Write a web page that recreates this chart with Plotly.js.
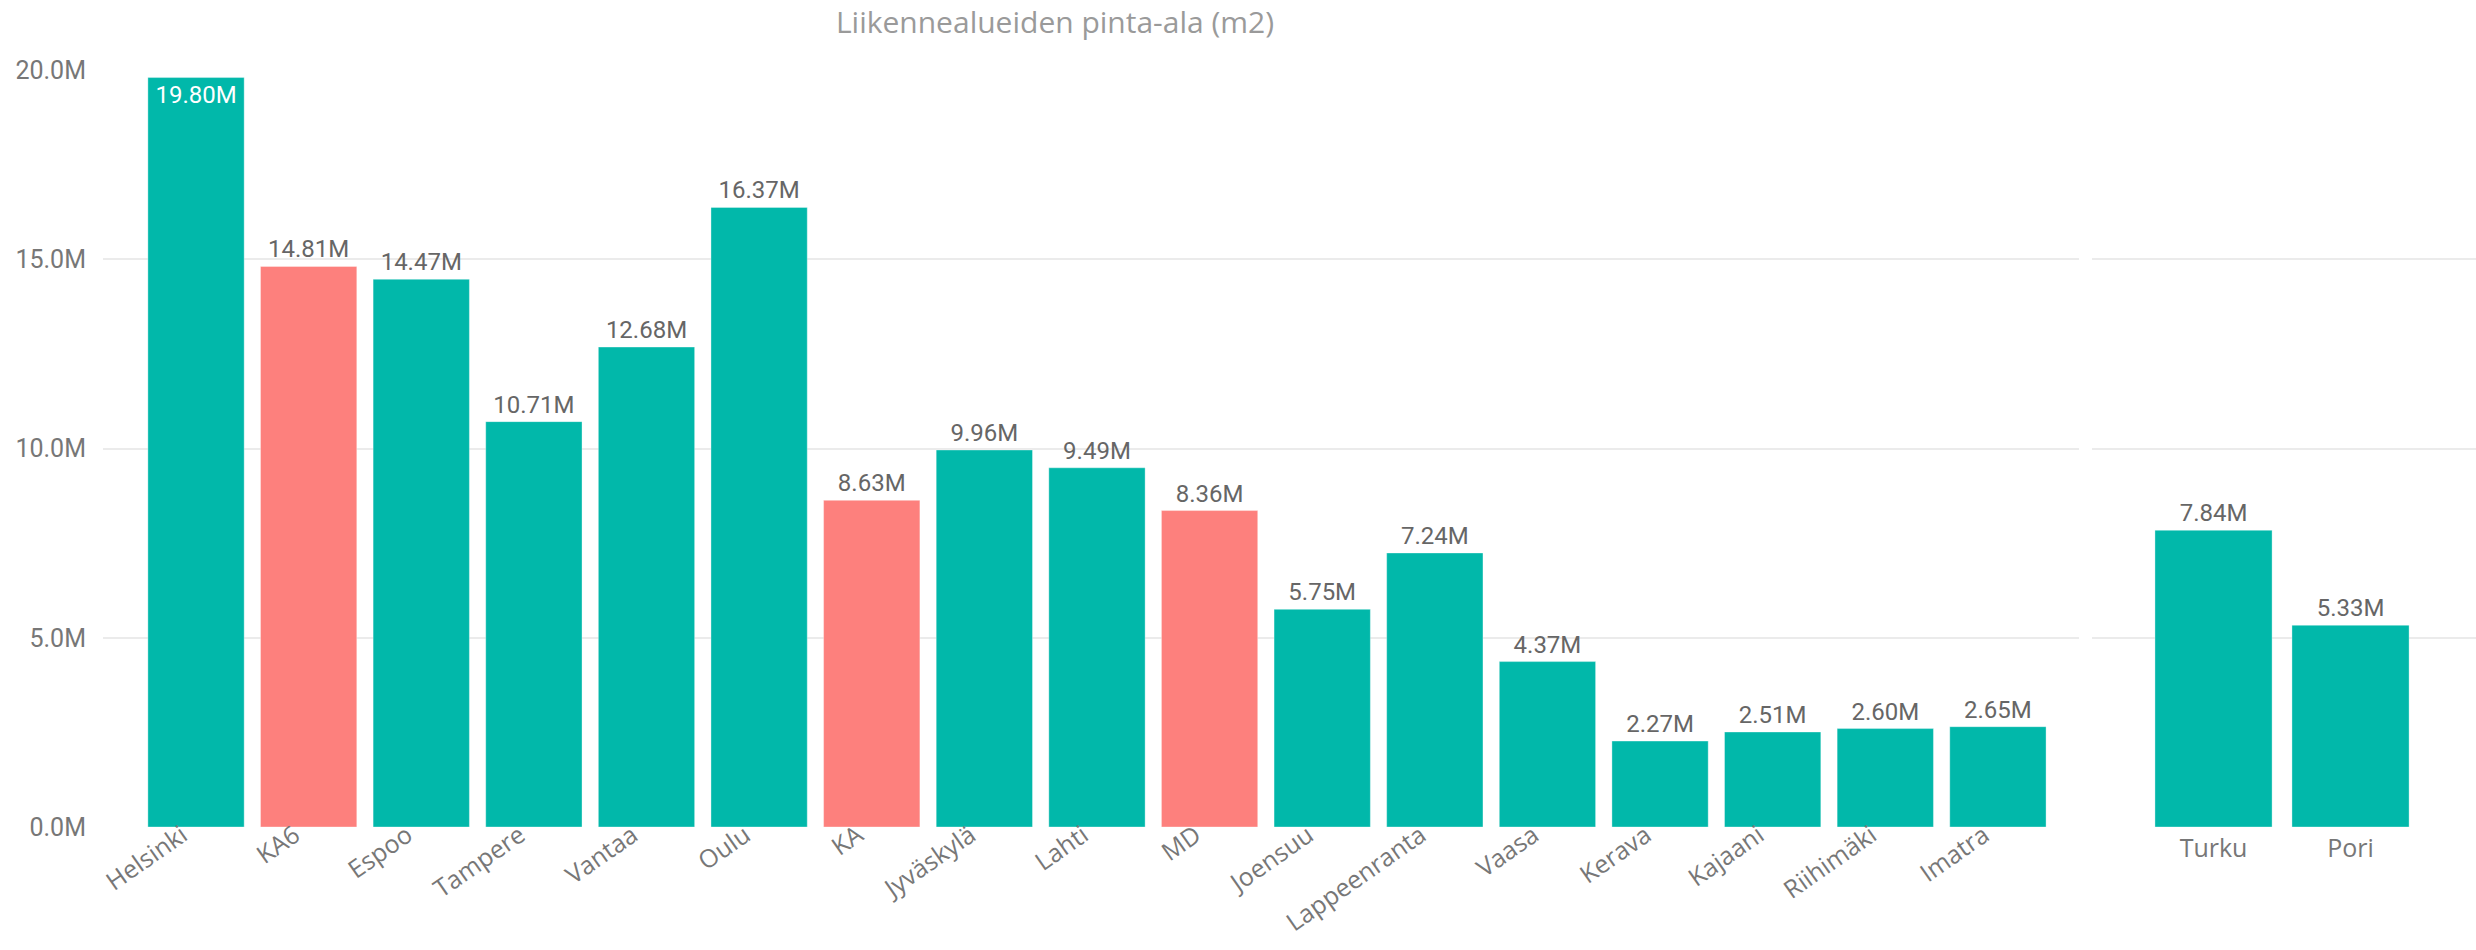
<!DOCTYPE html>
<html>
<head>
<meta charset="utf-8">
<script src="https://cdn.plot.ly/plotly-3.0.1.min.js"></script>
<style>html,body{margin:0;padding:0;background:#fff;}#chart{width:2476px;height:950px;}</style>
</head>
<body>
<div id="chart"></div>
<script>
// Data (values in millions of m2)
const cities = ["Helsinki","KA6","Espoo","Tampere","Vantaa","Oulu","KA","Jyväskylä","Lahti","MD","Joensuu","Lappeenranta","Vaasa","Kerava","Kajaani","Riihimäki","Imatra"];
const cityValues = [19.80,14.81,14.47,10.71,12.68,16.37,8.63,9.96,9.49,8.36,5.75,7.24,4.37,2.27,2.51,2.60,2.65];
const averageCategories = ["KA6","KA","MD"];
const otherCities = ["Turku","Pori"];
const otherValues = [7.84,5.33];
const yTickValues = [0,5,10,15,20];
const yTickLabels = ["0.0M","5.0M","10.0M","15.0M","20.0M"];
const chartTitle = "Liikennealueiden pinta-ala (m2)";

const TEAL = "#01B8AA", SALMON = "#FD807D";
const W = 2476, H = 950;
const mL = 103, mR = 0, mT = 70, mB = 123;
const plotW = W - mL - mR;
const fmt = v => v.toFixed(2) + "M";

const leftColors = cities.map(c => averageCategories.includes(c) ? SALMON : TEAL);
const leftPos = cityValues.map(v => v > 19 ? "inside" : "outside");
const labelFont = {family: "Roboto, DejaVu Sans", size: 24, color: "#666"};

const traces = [
  {
    type: "bar", x: cities, y: cityValues, xaxis: "x", yaxis: "y",
    marker: {color: leftColors, line: {color: "rgba(255,255,255,0.35)", width: 1}},
    text: cityValues.map(fmt), textposition: leftPos, insidetextanchor: "end",
    textfont: labelFont,
    insidetextfont: {family: "Roboto, DejaVu Sans", size: 24, color: "#ffffff"},
    outsidetextfont: labelFont,
    cliponaxis: false, hoverinfo: "x+y", showlegend: false
  },
  {
    type: "bar", x: otherCities, y: otherValues, xaxis: "x2", yaxis: "y2",
    marker: {color: TEAL, line: {color: "rgba(255,255,255,0.35)", width: 1}},
    text: otherValues.map(fmt), textposition: "outside",
    textfont: labelFont,
    cliponaxis: false, hoverinfo: "x+y", showlegend: false
  }
];

const d1end = (2079 - mL) / plotW;
const d2start = (2092 - mL) / plotW;

const layout = {
  width: W, height: H,
  margin: {l: mL, r: mR, t: mT, b: mB, pad: 0},
  paper_bgcolor: "#fff", plot_bgcolor: "#fff",
  bargap: 0.145,
  title: {text: chartTitle, x: 1055 / W, xanchor: "center", xref: "container",
          y: 1 - 22 / H, yanchor: "middle", yref: "container",
          font: {family: "Open Sans, Noto Sans", size: 30, color: "#9a9a9a"}},
  xaxis: {domain: [0, d1end], range: [-0.826, 16.72], tickangle: -35,
          tickfont: {family: "Open Sans, Noto Sans", size: 25, color: "#777"},
          showgrid: false, zeroline: false, showline: false, ticks: "",
          ticklabelstandoff: -12, ticklabelshift: -14, automargin: false, fixedrange: true},
  yaxis: {range: [0, 20], tickvals: yTickValues, ticktext: yTickLabels,
          tickfont: {family: "Roboto, DejaVu Sans", size: 25, color: "#777"},
          showgrid: true, gridcolor: "#ebebeb", gridwidth: 2, zeroline: false,
          showline: false, ticks: "", ticklabelstandoff: 16, automargin: false},
  xaxis2: {domain: [d2start, 1], range: [-0.887, 1.916], tickangle: 0,
           tickfont: {family: "Open Sans, Noto Sans", size: 25, color: "#777"},
           showgrid: false, zeroline: false, showline: false, ticks: "",
           ticklabelstandoff: 4, automargin: false},
  yaxis2: {anchor: "x2", range: [0, 20], tickvals: yTickValues, showticklabels: false,
           showgrid: true, gridcolor: "#ebebeb", gridwidth: 2, zeroline: false,
           showline: false, ticks: "", automargin: false}
};

Plotly.newPlot("chart", traces, layout, {displayModeBar: false, staticPlot: true});
</script>
</body>
</html>
